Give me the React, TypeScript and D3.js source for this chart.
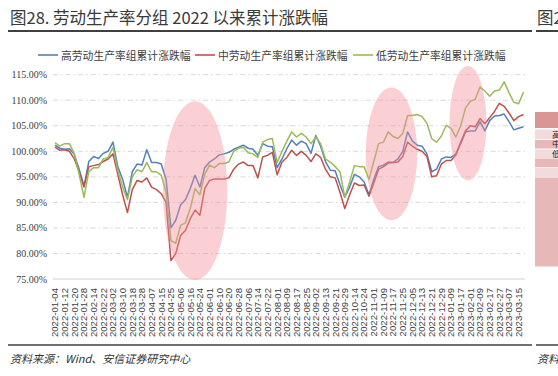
import React from "react";
import * as d3 from "d3";

const W = 558;
const H = 376;

const seriesNames = ["高劳动生产率组累计涨跌幅", "中劳动生产率组累计涨跌幅", "低劳动生产率组累计涨跌幅"];
const seriesColors = ["#4f81bd", "#c0504d", "#9bbb59"];

// one value every 3 trading days, trading-day index 0..291
const highGroup = [
  101.2, 100.6, 100.4, 100.5, 99.4, 96.5, 93.2, 98.0, 99.0, 98.6,
  99.6, 100.0, 101.8, 97.0, 94.5, 91.0, 96.0, 97.5, 97.3, 100.3,
  97.8, 97.8, 97.5, 94.5, 85.0, 86.5, 89.5, 90.5, 92.7, 95.3,
  93.0, 96.8, 97.9, 98.5, 99.3, 99.5, 99.8, 100.4, 100.8, 101.2,
  100.6, 100.4, 99.2, 101.5, 101.0, 100.9, 96.8, 98.5, 100.5, 102.2,
  101.2, 102.0, 101.5, 99.6, 103.1, 101.0, 98.0, 96.3, 96.2, 93.5,
  91.0, 93.0, 95.5, 95.0, 94.0, 91.5, 94.5, 97.0, 97.3, 97.9,
  97.8, 98.5, 100.0, 103.8, 102.0, 101.2, 101.0, 99.5, 96.0, 96.5,
  98.5, 98.9, 98.8, 99.5, 101.5, 103.8, 104.0, 104.0, 105.8, 104.0,
  106.0, 106.9, 107.0, 107.3, 105.8, 104.2, 104.5, 104.8,
];
const midGroup = [
  100.8, 100.2, 100.3, 100.0, 98.5, 96.0, 93.0, 97.0, 97.2, 97.4,
  98.0, 98.5, 99.5, 95.5, 91.5, 88.0, 92.5, 94.3, 94.0, 94.8,
  93.0, 92.5, 91.7, 90.0, 78.6, 80.0, 83.5, 84.5, 86.8, 88.5,
  87.5, 92.7, 94.3, 94.6, 94.6, 94.6, 94.8, 96.5, 97.5, 97.9,
  97.2, 97.2, 94.8, 98.9, 99.2, 99.8, 95.4, 97.9, 98.8, 100.2,
  99.2, 100.0, 99.2, 98.0, 99.5, 98.8, 96.5, 95.0, 94.8, 92.0,
  88.8, 91.5, 93.8, 93.3, 93.4, 91.2, 93.8, 96.5, 97.0, 97.7,
  97.8, 97.9, 99.0, 101.8, 101.0, 100.4, 100.0, 99.0, 95.0, 95.2,
  97.5, 98.2, 98.2, 99.3, 101.8, 104.0, 105.0, 104.8, 106.4, 105.4,
  106.6, 107.8, 109.4, 108.8, 107.5, 106.0, 106.8, 107.2,
];
const lowGroup = [
  101.7, 101.0, 101.5, 101.5, 99.5, 95.5, 91.0, 96.0, 96.8, 96.8,
  98.5, 98.8, 100.8, 96.2, 93.0, 90.5, 95.0, 96.4, 96.0, 97.8,
  96.0, 96.0, 95.3, 92.0, 82.5, 82.0, 85.5, 86.0, 88.8, 92.7,
  91.5, 95.5, 97.3, 96.8, 97.6, 97.6, 97.9, 100.0, 100.6, 100.8,
  99.7, 99.5, 98.8, 101.8, 102.3, 102.5, 97.8, 100.0, 102.0, 103.8,
  102.8, 103.5, 102.8, 101.5, 102.8, 101.5, 98.5, 97.9, 97.0, 96.0,
  91.0, 94.0, 97.2, 97.0, 97.0, 94.5, 98.0, 101.5, 101.8, 103.8,
  102.9, 102.5, 103.5, 107.0, 107.0, 107.2, 106.8, 105.5, 102.5, 101.8,
  103.0, 105.1, 104.5, 102.8, 105.0, 108.5, 109.8, 110.2, 112.6, 111.8,
  110.8, 111.8, 112.0, 113.6, 111.5, 109.6, 109.3, 111.6,
];

// tick labels, one every 6 trading days
const tickLabels = [
  "2022-01-04", "2022-01-12", "2022-01-20", "2022-01-28", "2022-02-14", "2022-02-22", "2022-03-02",
  "2022-03-10", "2022-03-18", "2022-03-28", "2022-04-07", "2022-04-15", "2022-04-25", "2022-05-06",
  "2022-05-16", "2022-05-24", "2022-06-01", "2022-06-10", "2022-06-20", "2022-06-28", "2022-07-06",
  "2022-07-14", "2022-07-22", "2022-08-01", "2022-08-09", "2022-08-17", "2022-08-25", "2022-09-02",
  "2022-09-13", "2022-09-21", "2022-09-29", "2022-10-14", "2022-10-24", "2022-11-01", "2022-11-09",
  "2022-11-17", "2022-11-25", "2022-12-05", "2022-12-13", "2022-12-21", "2022-12-29", "2023-01-09",
  "2023-01-17", "2023-02-01", "2023-02-09", "2023-02-17", "2023-02-27", "2023-03-07", "2023-03-15",
];
const yTicks = [75, 80, 85, 90, 95, 100, 105, 110, 115];

// highlighted periods: start index, end index, low value, high value
const highlightStart = [67, 193, 245];
const highlightEnd = [107, 225, 268];
const highlightLow = [74.8, 86.5, 94.3];
const highlightHigh = [109.8, 112.5, 116.7];

const STEP = 3;
const LAST = 291;

export default function App() {
  const x = d3.scaleLinear().domain([0, LAST]).range([55, 523.5]);
  const y = d3.scaleLinear().domain([75, 115]).range([279, 74.7]);
  const series = [highGroup, midGroup, lowGroup];
  const line = d3
    .line<number>()
    .x((_, i) => x(i * STEP))
    .y((d) => y(d));

  const cjk = "'Noto Sans CJK SC', 'Noto Sans', sans-serif";
  const legendX = [38, 195, 353];

  return (
    <svg width={W} height={H} style={{ position: "absolute", left: 0, top: 0, background: "#fff" }}>
      <rect x={0} y={0} width={W} height={H} fill="#fff" />
      {/* title */}
      <text x={10} y={24} fontFamily={cjk} fontSize={16.5} fill="#3a3a3a">
        图28. 劳动生产率分组 2022 以来累计涨跌幅
      </text>
      <text x={537} y={24} fontFamily={cjk} fontSize={16.5} fill="#3a3a3a">
        图2
      </text>
      <line x1={8} x2={532} y1={31} y2={31} stroke="#404040" strokeWidth={2} />
      <line x1={536} x2={558} y1={31} y2={31} stroke="#404040" strokeWidth={2} />

      {/* legend */}
      {seriesNames.map((n, i) => (
        <g key={n}>
          <line x1={legendX[i]} x2={legendX[i] + 20} y1={55} y2={55} stroke={seriesColors[i]} strokeWidth={1.6} />
          <text x={legendX[i] + 23} y={59.5} fontFamily={cjk} fontSize={10.8} fill="#404040">
            {n}
          </text>
        </g>
      ))}

      {/* gridlines */}
      {yTicks.map((t) =>
        t === 75 ? (
          <line key={t} x1={53} x2={525} y1={y(t)} y2={y(t)} stroke="#d0d0d0" strokeWidth={1} />
        ) : (
          <line key={t} x1={53} x2={525} y1={y(t)} y2={y(t)} stroke="#d9d9d9" strokeWidth={1} strokeDasharray="5,3,1.5,3" />
        )
      )}
      {yTicks.map((t) => (
        <text key={"l" + t} x={47} y={y(t)} dy="0.35em" textAnchor="end" fontFamily="'Liberation Serif', serif" fontSize={10} fill="#404040">
          {t.toFixed(2) + "%"}
        </text>
      ))}

      {/* x labels */}
      {tickLabels.map((l, j) => (
        <text
          key={l}
          transform={`translate(${x(j * 6)},288) rotate(-90)`}
          textAnchor="end"
          dy="0.35em"
          fontFamily="'Liberation Sans', Arial, sans-serif"
          fontSize={9.6}
          fill="#404040"
        >
          {l}
        </text>
      ))}

      {/* series */}
      {series.map((s, i) => (
        <path key={i} d={line(s) || ""} fill="none" stroke={seriesColors[i]} strokeWidth={1.5} strokeLinejoin="round" />
      ))}

      {/* highlight ellipses */}
      {highlightStart.map((s, i) => {
        const x0 = x(s);
        const x1 = x(highlightEnd[i]);
        const y0 = y(highlightHigh[i]);
        const y1 = y(highlightLow[i]);
        return (
          <ellipse
            key={i}
            cx={(x0 + x1) / 2}
            cy={(y0 + y1) / 2}
            rx={(x1 - x0) / 2}
            ry={(y1 - y0) / 2}
            fill="#f4909b"
            opacity={0.42}
          />
        );
      })}

      {/* partial neighbour table */}
      <rect x={535} y={112} width={23} height={16} fill="#d99694" />
      <rect x={535} y={129.5} width={23} height={9.5} fill="#f2dcdb" />
      <rect x={535} y={140} width={23} height={8.5} fill="#e6b9b8" />
      <rect x={535} y={149.5} width={23} height={8.5} fill="#f2dcdb" />
      <rect x={535} y={158.5} width={23} height={8.5} fill="#e6b9b8" />
      <rect x={535} y={167.5} width={23} height={9.5} fill="#f2dcdb" />
      <rect x={535} y={177.5} width={23} height={89} fill="#e6b9b8" />
      <text x={552} y={137.5} fontFamily={cjk} fontSize={8.5} fill="#222">高</text>
      <text x={552} y={147} fontFamily={cjk} fontSize={8.5} fill="#222">中</text>
      <text x={552} y={156.5} fontFamily={cjk} fontSize={8.5} fill="#222">低</text>

      {/* source */}
      <line x1={8} x2={532} y1={345} y2={345} stroke="#404040" strokeWidth={1.5} />
      <line x1={536} x2={558} y1={345} y2={345} stroke="#404040" strokeWidth={1.5} />
      <text x={10} y={363} fontFamily={cjk} fontSize={11} fill="#333" fontStyle="italic">
        资料来源：Wind、安信证券研究中心
      </text>
      <text x={537} y={363} fontFamily={cjk} fontSize={11} fill="#333" fontStyle="italic">
        资料
      </text>
    </svg>
  );
}
